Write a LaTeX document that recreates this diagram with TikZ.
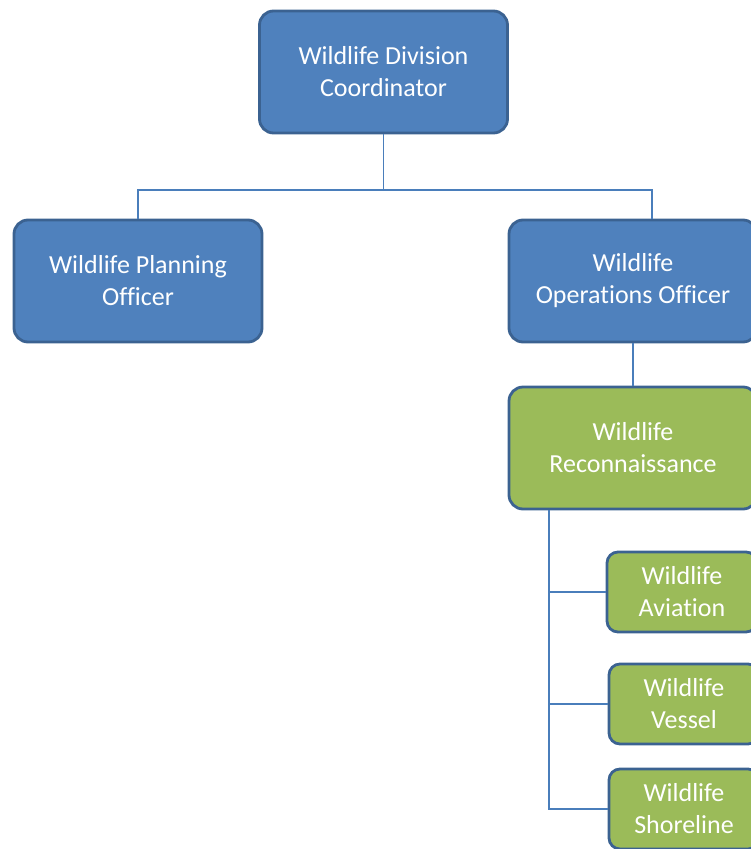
\documentclass[tikz,border=0pt]{standalone}
\usepackage{fontspec}
\setmainfont{Carlito}[RawFeature={-liga}]
\usetikzlibrary{calc}
\definecolor{boxblue}{HTML}{4F81BD}
\definecolor{boxgreen}{HTML}{9BBB59}
\definecolor{edgeblue}{HTML}{3B6291}
\definecolor{linkblue}{HTML}{4A7EBB}
\tikzset{
  orgbox/.style={draw=edgeblue, line width=2.8pt, text=white, align=center,
    font=\fontsize{26}{32}\selectfont, inner sep=0pt},
  bigbox/.style={orgbox, rounded corners=14pt, minimum width=248pt, minimum height=122pt},
  smallbox/.style={orgbox, rounded corners=11pt, minimum width=150pt, minimum height=80pt},
  link/.style={draw=linkblue, line width=1.8pt}
}
\begin{document}
\begin{tikzpicture}[x=1pt,y=-1pt]
  \useasboundingbox (0,0) rectangle (751,849);
  \clip (0,0) rectangle (751,849);

  % management level
  \node[bigbox, fill=boxblue] (coord) at (383.5,72) {Wildlife Division\\Coordinator};
  \node[bigbox, fill=boxblue] (plan) at (138,281) {Wildlife Planning\\Officer};
  \node[bigbox, fill=boxblue] (ops) at (633,281) {Wildlife\\Operations Officer};

  % reconnaissance branch
  \node[bigbox, fill=boxgreen] (recon) at (633,448) {Wildlife\\Reconnaissance};
  \node[smallbox, fill=boxgreen] (avia) at (682,592) {Wildlife\\Aviation};
  \node[smallbox, fill=boxgreen] (vessel) at (684,704) {Wildlife\\Vessel};
  \node[smallbox, fill=boxgreen] (shore) at (684,809) {Wildlife\\Shoreline};

  % connectors
  \coordinate (bus) at (383.5,190);
  \coordinate (opsdrop) at ($(ops.north)+(19,0)$);
  \coordinate (spine) at ($(recon.south west)+(41,0)$);
  \draw[link] (coord.south) -- (bus);
  \draw[link] (plan.north) |- (bus) -| (opsdrop);
  \draw[link] (ops.south) -- (recon.north);
  \draw[link] (spine) |- (avia.west);
  \draw[link] (spine) |- (vessel.west);
  \draw[link] (spine) |- (shore.west);
\end{tikzpicture}
\end{document}
